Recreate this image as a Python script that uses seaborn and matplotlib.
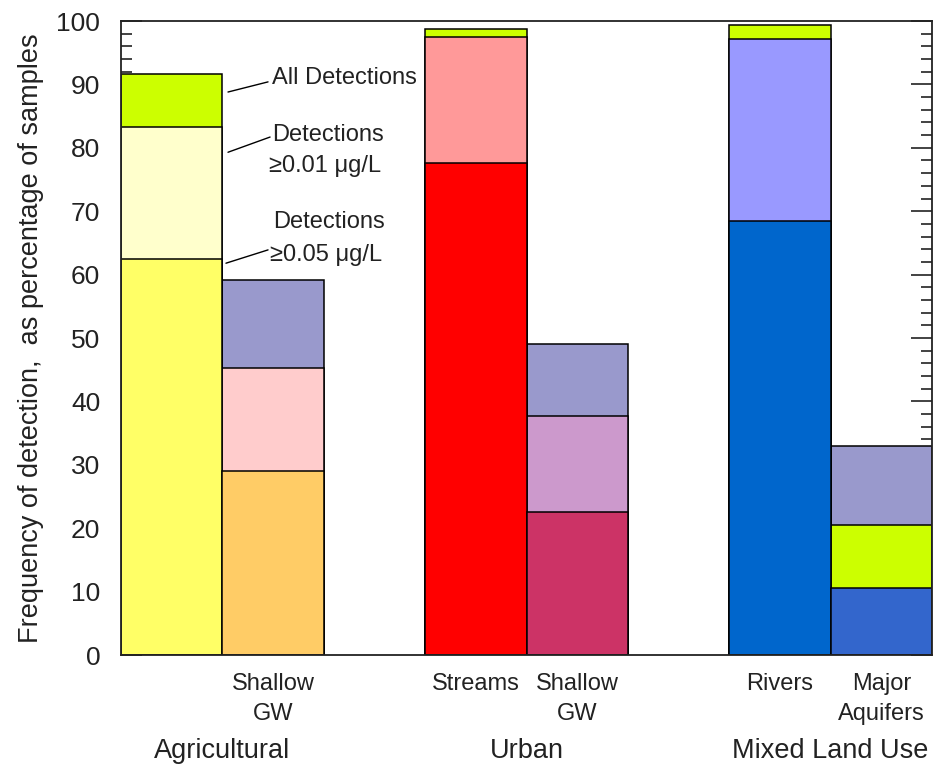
import numpy as np
import pandas as pd
import matplotlib
matplotlib.use("Agg")
import matplotlib.pyplot as plt
import matplotlib.transforms as mtransforms
from matplotlib.ticker import MultipleLocator
import seaborn as sns

# Bar slots: two bars per land-use group, one empty slot between groups
positions = [0, 1, 3, 4, 6, 7]
bar_labels = ["", "Shallow\nGW", "Streams", "Shallow\nGW", "Rivers", "Major\nAquifers"]
group_labels = ["Agricultural", "Urban", "Mixed Land Use"]
group_centers = [0.5, 3.5, 6.5]

# Cumulative frequency of detection (%) for each bar
base_level = [62.4, 29.1, 77.6, 22.5, 68.4, 10.6]
middle_level = [83.3, 45.3, 97.4, 37.7, 97.2, 20.5]
top_level = [91.7, 59.1, 98.8, 49.1, 99.4, 32.9]

base_colors = ["#FFFF66", "#FFCC66", "#FF0000", "#CC3366", "#0066CC", "#3366CC"]
middle_colors = ["#FFFFCC", "#FFCCCC", "#FF9999", "#CC99CC", "#9999FF", "#CCFF00"]
top_colors = ["#CCFF00", "#9999CC", "#CCFF00", "#9999CC", "#CCFF00", "#9999CC"]

sns.set_style("white")
plt.rcParams["font.family"] = ["Liberation Sans", "DejaVu Sans"]

fig = plt.figure(figsize=(9.34, 7.67), dpi=100)
ax = fig.add_axes([0.1296, 0.146, 0.8683, 0.8266])

keys = [f"bar{i}" for i in range(len(positions))]
# Draw tallest layer first, so each lower segment covers the one above it
for level, colors in [(top_level, top_colors), (middle_level, middle_colors), (base_level, base_colors)]:
    df = pd.DataFrame({"pos": positions, "value": level, "key": keys})
    sns.barplot(data=df, x="pos", y="value", hue="key",
                palette=dict(zip(keys, colors)), native_scale=True,
                dodge=False, width=1.0, saturation=1, errorbar=None,
                edgecolor="black", linewidth=1.1, legend=False, ax=ax)

ax.set_xlim(-0.5, 7.5)
ax.set_ylim(0, 100)

for side in ["left", "right", "top", "bottom"]:
    ax.spines[side].set_visible(True)
    ax.spines[side].set_color("#222222")
    ax.spines[side].set_linewidth(1.3)

ax.yaxis.set_major_locator(MultipleLocator(10))
ax.yaxis.set_minor_locator(MultipleLocator(2))
ax.tick_params(axis="y", which="both", direction="in", left=True, right=True,
               labelright=False, width=1.2, colors="#222222", labelcolor="#222222")
ax.tick_params(axis="y", which="major", length=15, pad=15, labelsize=19)
ax.tick_params(axis="y", which="minor", length=8)

ax.set_xticks(positions[1:])
ax.set_xticklabels(bar_labels[1:], linespacing=1.45)
ax.tick_params(axis="x", length=0, pad=13, labelsize=17, labelcolor="#222222")
ax.set_xlabel("")
ax.set_ylabel("Frequency of detection,  as percentage of samples",
              fontsize=19.5, labelpad=9, color="#222222")

trans = mtransforms.blended_transform_factory(ax.transData, ax.transAxes)
for c, lab in zip(group_centers, group_labels):
    ax.text(c, -0.151, lab, transform=trans, ha="center", va="center",
            fontsize=19.5, color="#222222")

# Leader lines and captions for the three detection levels
ax.plot([0.555, 0.95], [88.8, 90.4], color="black", lw=1)
ax.text(0.99, 91.0, "All Detections", ha="left", va="center", fontsize=17, color="#222222")

ax.plot([0.555, 0.97], [79.3, 81.7], color="black", lw=1)
ax.text(0.99, 82.0, "Detections", ha="left", va="center", fontsize=17, color="#222222")
ax.text(0.96, 77.1, "≥0.01 μg/L", ha="left", va="center", fontsize=17, color="#222222")

ax.text(1.0, 68.3, "Detections", ha="left", va="center", fontsize=17, color="#222222")
ax.plot([0.535, 0.95], [61.8, 63.9], color="black", lw=1)
ax.text(0.97, 63.1, "≥0.05 μg/L", ha="left", va="center", fontsize=17, color="#222222")

fig.savefig("out.png", dpi=100)
